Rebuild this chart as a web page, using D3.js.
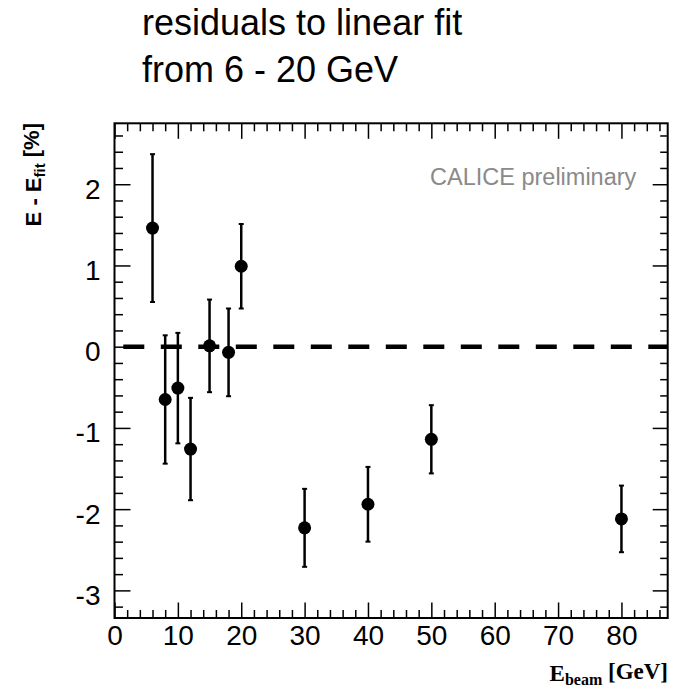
<!DOCTYPE html>
<html>
<head>
<meta charset="utf-8">
<script src="https://cdn.jsdelivr.net/npm/d3@7"></script>
<style>
	body { margin: 0; background: #fff; }
	svg { display: block; }
</style>
</head>
<body>
<div id="chart"></div>
<script>
// data
const energies = [6, 8, 10, 12, 15, 18, 20, 30, 40, 50, 80];
const residuals = [1.46, -0.65, -0.51, -1.26, 0.01, -0.07, 0.99, -2.23, -1.94, -1.14, -2.12];
const errors = [0.91, 0.79, 0.68, 0.63, 0.57, 0.54, 0.52, 0.48, 0.46, 0.42, 0.41];
const fitResidual = [0, 0];
const xMajorTicks = [0, 10, 20, 30, 40, 50, 60, 70, 80];
const yMajorTicks = [-3, -2, -1, 0, 1, 2];
const titleLines = ['residuals to linear fit', 'from 6 - 20 GeV'];

(() => {
	const width = 684;
	const height = 689;
	const frame = { left: 114.5, right: 667.7, top: 123.3, bottom: 618 };
	const xDomain = [0, 87.3];
	const yDomain = [-3.34, 2.75];
	const font = '"Liberation Sans", Arial, Helvetica, sans-serif';

	const svg = d3.select('#chart').append('svg')
		.attr('width', width)
		.attr('height', height)
		.style('font-family', font);

	const x = d3.scaleLinear()
		.domain(xDomain)
		.range([frame.left, frame.right]);
	const y = d3.scaleLinear()
		.domain(yDomain)
		.range([frame.bottom, frame.top]);

	const xMinor = d3.range(0, xDomain[1], 2).filter(v => v % 10 !== 0);
	const yMinor = d3.range(-3.2, yDomain[1], 0.2)
		.map(v => Math.round(v * 10) / 10)
		.filter(v => Math.abs(v - Math.round(v)) > 0.01);

	// plain hyphen for negatives, as in the original
	const plain = d => String(d);

	// ticks point inward on all four sides, like ROOT
	function addAxis(axis, transform) {
		const g = svg.append('g')
			.attr('transform', transform)
			.call(axis);
		g.select('.domain').remove();
		g.selectAll('line').style('stroke', '#000').style('stroke-width', 1.5);
		return g;
	}

	const bottomG = addAxis(d3.axisBottom(x).tickValues(xMajorTicks).tickFormat(plain).tickSize(-15.5).tickPadding(7),
		`translate(0, ${frame.bottom})`);
	addAxis(d3.axisBottom(x).tickValues(xMinor).tickSize(-8).tickFormat(''),
		`translate(0, ${frame.bottom})`);
	addAxis(d3.axisTop(x).tickValues(xMajorTicks).tickSize(-15.5).tickFormat(''),
		`translate(0, ${frame.top})`);
	addAxis(d3.axisTop(x).tickValues(xMinor).tickSize(-8).tickFormat(''),
		`translate(0, ${frame.top})`);

	const leftG = addAxis(d3.axisLeft(y).tickValues(yMajorTicks).tickFormat(plain).tickSize(-16).tickPadding(14),
		`translate(${frame.left}, 0)`);
	addAxis(d3.axisLeft(y).tickValues(yMinor).tickSize(-8.5).tickFormat(''),
		`translate(${frame.left}, 0)`);
	addAxis(d3.axisRight(y).tickValues(yMajorTicks).tickSize(-15).tickFormat(''),
		`translate(${frame.right}, 0)`);
	addAxis(d3.axisRight(y).tickValues(yMinor).tickSize(-7.5).tickFormat(''),
		`translate(${frame.right}, 0)`);

	bottomG.selectAll('text')
		.style('font-family', font)
		.style('font-size', '28px')
		.style('fill', '#000');
	leftG.selectAll('text')
		.attr('dy', '0.5em')
		.style('font-family', font)
		.style('font-size', '28px')
		.style('fill', '#000');

	// frame
	svg.append('rect')
		.attr('x', frame.left)
		.attr('y', frame.top)
		.attr('width', frame.right - frame.left)
		.attr('height', frame.bottom - frame.top)
		.style('fill', 'none')
		.style('stroke', '#000')
		.style('stroke-width', 2);

	// linear fit residual (dashed)
	const fitLine = d3.line()
		.x((d, i) => x(xDomain[i]))
		.y(d => y(d));
	svg.append('path')
		.datum(fitResidual)
		.attr('d', fitLine)
		.style('fill', 'none')
		.style('stroke', '#000')
		.style('stroke-width', 4.5)
		.style('stroke-dasharray', '21 16.5')
		.style('stroke-dashoffset', 28.7);

	const points = energies.map((e, i) => ({ e: e, r: residuals[i], err: errors[i] }));

	const pts = svg.append('g').selectAll('g')
		.data(points)
		.enter()
		.append('g');

	pts.append('line')
		.attr('x1', d => x(d.e))
		.attr('x2', d => x(d.e))
		.attr('y1', d => y(d.r + d.err))
		.attr('y2', d => y(d.r - d.err))
		.style('stroke', '#000')
		.style('stroke-width', 2.5);

	[1, -1].forEach(s => {
		pts.append('line')
			.attr('x1', d => x(d.e) - 2.5)
			.attr('x2', d => x(d.e) + 2.5)
			.attr('y1', d => y(d.r + s * d.err))
			.attr('y2', d => y(d.r + s * d.err))
			.style('stroke', '#000')
			.style('stroke-width', 2);
	});

	pts.append('circle')
		.attr('cx', d => x(d.e))
		.attr('cy', d => y(d.r))
		.attr('r', 6.5)
		.style('fill', '#000');

	// title
	svg.append('g').selectAll('text')
		.data(titleLines)
		.enter()
		.append('text')
		.attr('x', 142)
		.attr('y', (d, i) => 35 + i * 47)
		.style('font-size', '36px')
		.style('fill', '#000')
		.text(d => d);

	svg.append('text')
		.attr('x', 430)
		.attr('y', 185)
		.style('font-size', '23.5px')
		.style('fill', '#8a8a8a')
		.text('CALICE preliminary');

	// y label
	const yLabel = svg.append('text')
		.attr('transform', 'translate(41, 123) rotate(-90)')
		.style('text-anchor', 'end')
		.style('font-size', '22px')
		.style('font-weight', 'bold')
		.style('fill', '#000');
	yLabel.append('tspan').text('E - E');
	yLabel.append('tspan').attr('dy', '0.25em').style('font-size', '15px').text('fit');
	yLabel.append('tspan').attr('dy', '-0.25em').text(' [%]');

	// x label
	const xLabel = svg.append('text')
		.attr('x', 668)
		.attr('y', 681)
		.style('text-anchor', 'end')
		.style('font-family', '"Liberation Serif", "Times New Roman", serif')
		.style('font-size', '23px')
		.style('font-weight', 'bold')
		.style('fill', '#000');
	xLabel.append('tspan').text('E');
	xLabel.append('tspan').attr('dy', '0.25em').style('font-size', '16px').text('beam');
	xLabel.append('tspan').attr('dy', '-0.25em').text(' [GeV]');
})();
</script>
</body>
</html>
